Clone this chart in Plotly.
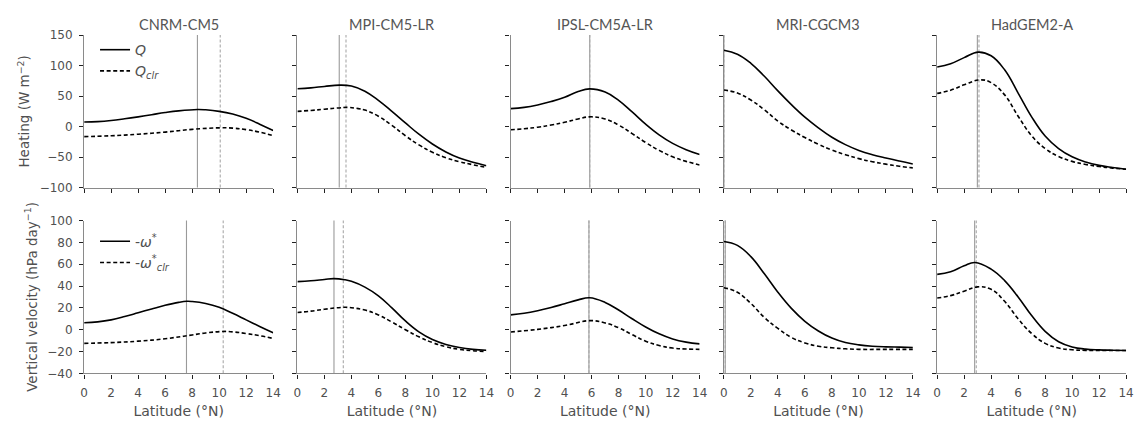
import plotly.graph_objects as go

# ---- data: latitude (°N) and profiles for each model ----
models = ["CNRM-CM5", "MPI-CM5-LR", "IPSL-CM5A-LR", "MRI-CGCM3", "HadGEM2-A"]

# Heating Q (W m-2)
cnrm_q_lat = [0, 1, 2, 3, 4, 5, 6, 7, 8.4, 9, 10, 11, 12, 13, 14]
cnrm_q = [7.5, 8.2, 10, 12.8, 16, 19.5, 23, 25.8, 28, 27.5, 25, 20.5, 13.5, 4, -6.5]
cnrm_qclr_lat = [0, 2, 4, 6, 8, 10.1, 11, 12, 13, 14]
cnrm_qclr = [-16.5, -15, -12.5, -9, -4.5, -2, -2.5, -5, -9, -15]

mpi_q_lat = [0, 1, 2, 3.1, 4, 5, 6, 7, 8, 9, 10, 11, 12, 13, 14]
mpi_q = [62, 63.5, 65.8, 68, 66.5, 58, 43, 25, 6, -12.5, -28.5, -41.5, -51.5, -58.5, -64]
mpi_qclr_lat = [0, 1, 2, 3, 3.7, 4.5, 5, 6, 7, 8, 9, 10, 11, 12, 13, 14]
mpi_qclr = [25, 26.5, 28.5, 30.5, 31.5, 29.5, 27, 17, 2, -15, -30, -42, -51, -57.5, -62.5, -67]

ipsl_q_lat = [0, 1, 2, 3, 4, 5, 5.85, 7, 8, 9, 10, 11, 12, 13, 14]
ipsl_q = [29.5, 31.5, 35.5, 41, 48, 57.5, 61.8, 56.5, 43, 24, 4, -13.5, -27.5, -37.8, -45.7]
ipsl_qclr_lat = [0, 1, 2, 3, 4, 5, 5.85, 7, 8, 9, 10, 11, 12, 13, 14]
ipsl_qclr = [-5.3, -3.5, -1, 2.5, 7, 12.5, 16, 12.5, 2.5, -11.5, -26, -39, -49.5, -57, -62.8]

mri_q_lat = [0, 1, 2, 3, 4, 5, 6, 7, 8, 9, 10, 11, 12, 13, 14]
mri_q = [125, 118.6, 103.7, 82.4, 58.5, 36, 15.5, -2, -17.5, -29.5, -39, -46, -51.5, -56.5, -61.2]
mri_qclr_lat = [0, 1, 2, 3, 4, 5, 6, 7, 8, 9, 10, 11, 12, 13, 14]
mri_qclr = [60, 55, 43.5, 27.5, 9, -5.5, -18, -29, -38.5, -46, -52.5, -57.5, -61.5, -65, -67.6]

had_q_lat = [0, 1, 2, 3.05, 4, 5, 6, 7, 8, 9, 10, 11, 12, 13, 14]
had_q = [97.6, 103, 113, 122, 116, 93, 55, 16, -15.5, -36, -49.5, -58, -63.5, -67, -70]
had_qclr_lat = [0, 1, 2, 3.2, 4, 5, 6, 7, 8, 9, 10, 11, 12, 13, 14]
had_qclr = [54.4, 59.6, 68.5, 76.6, 72, 52, 17, -15, -36, -49, -57, -62, -65.5, -68, -70]

# Vertical velocity -omega* (hPa day-1)
cnrm_w_lat = [0, 1, 2, 3, 4, 5, 6, 7, 7.6, 8, 9, 10, 11, 12, 13, 14]
cnrm_w = [6.4, 7.2, 9, 12, 15.5, 19, 22.3, 25, 26, 25.8, 24, 20.5, 15, 9, 3, -2.8]
cnrm_wclr_lat = [0, 2, 4, 6, 8, 9, 10.3, 11, 12, 13, 14]
cnrm_wclr = [-12.5, -11.8, -10.5, -8.3, -4.8, -3, -1.6, -2, -3.5, -5.5, -8]

mpi_w_lat = [0, 1, 2, 2.7, 3.5, 4, 5, 6, 7, 8, 9, 10, 11, 12, 13, 14]
mpi_w = [44, 44.8, 46, 46.8, 45.8, 44.3, 39, 31, 20, 8, -2, -9, -13.5, -16.3, -18, -18.8]
mpi_wclr_lat = [0, 1, 2, 3.4, 4, 5, 6, 7, 8, 9, 10, 11, 12, 13, 14]
mpi_wclr = [15.8, 17, 18.7, 20.5, 20.1, 18, 13.5, 7, 0, -6.5, -11.8, -15.6, -18, -19.3, -20]

ipsl_w_lat = [0, 1, 2, 3, 4, 5, 5.85, 7, 8, 9, 10, 11, 12, 13, 14]
ipsl_w = [13.6, 15, 17.3, 20.3, 23.8, 27.3, 29.3, 25, 18, 10, 2.5, -3.8, -8.5, -11.4, -13]
ipsl_wclr_lat = [0, 2, 4, 5.85, 7, 8, 9, 10, 11, 12, 13, 14]
ipsl_wclr = [-2.1, 0.3, 3.8, 8.3, 6.2, 1.8, -4.5, -10.5, -14.5, -16.8, -17.7, -18]

mri_w_lat = [0, 1, 2, 3, 4, 5, 6, 7, 8, 9, 10, 11, 12, 13, 14]
mri_w = [80.8, 77.2, 66.9, 51.2, 34.3, 19.5, 7.7, -1.2, -7.7, -11.8, -13.9, -15.1, -15.7, -16, -16.3]
mri_wclr_lat = [0, 1, 2, 3, 4, 5, 6, 7, 8, 9, 10, 12, 14]
mri_wclr = [38.5, 34.3, 24, 11.2, 1.2, -7.1, -12.1, -15.1, -16.6, -17.5, -18, -18, -18]

had_w_lat = [0, 1, 2, 2.8, 4, 5, 6, 7, 8, 9, 10, 11, 12, 13, 14]
had_w = [50.7, 53, 58.5, 61.6, 55.5, 45, 30, 13, -1.5, -11, -15.8, -17.8, -18.5, -18.8, -19]
had_wclr_lat = [0, 1, 2, 3.0, 4, 5, 6, 7, 8, 9, 10, 11, 12, 14]
had_wclr = [29, 31.2, 35.3, 39.2, 37, 26, 10, -3.5, -12.5, -16.8, -18.4, -18.9, -19, -19]

# Latitudes of the maxima (vertical markers)
q_peak = [8.39, 3.1, 5.86, 0.0, 2.98]
qclr_peak = [10.08, 3.6, 5.86, 0.0, 3.1]
w_peak = [7.58, 2.71, 5.8, 0.1, 2.78]
wclr_peak = [10.3, 3.4, 5.8, 0.1, 2.9]

x_ticks = [0, 2, 4, 6, 8, 10, 12, 14]
heat_ticks = [-100, -50, 0, 50, 100, 150]
vel_ticks = [-40, -20, 0, 20, 40, 60, 80, 100]

top_rows = [
    (cnrm_q_lat, cnrm_q, cnrm_qclr_lat, cnrm_qclr),
    (mpi_q_lat, mpi_q, mpi_qclr_lat, mpi_qclr),
    (ipsl_q_lat, ipsl_q, ipsl_qclr_lat, ipsl_qclr),
    (mri_q_lat, mri_q, mri_qclr_lat, mri_qclr),
    (had_q_lat, had_q, had_qclr_lat, had_qclr),
]
bottom_rows = [
    (cnrm_w_lat, cnrm_w, cnrm_wclr_lat, cnrm_wclr),
    (mpi_w_lat, mpi_w, mpi_wclr_lat, mpi_wclr),
    (ipsl_w_lat, ipsl_w, ipsl_wclr_lat, ipsl_wclr),
    (mri_w_lat, mri_w, mri_wclr_lat, mri_wclr),
    (had_w_lat, had_w, had_wclr_lat, had_wclr),
]

# ---- layout geometry (pixels) ----
W, H = 1146, 430
left0, pitch, pw = 81.0, 215.5, 191.0
top_row_px = (29.0, 186.7)
bot_row_px = (220.7, 378.7)

TEXT = "#505050"
FONT = "DejaVu Sans"
DASH = "4px,2.6px"
SMOOTH = 1.2

fig = go.Figure()
layout = dict(
    width=W, height=H,
    margin=dict(l=0, r=0, t=0, b=0),
    paper_bgcolor="white", plot_bgcolor="white",
    font=dict(family=FONT, color=TEXT, size=12),
    shapes=[], annotations=[],
)


def axis_common():
    return dict(
        showgrid=False, zeroline=False, showline=True,
        linecolor="#8a8a8a", linewidth=1.3,
        ticks="outside", ticklen=4, tickwidth=1, tickcolor="#222",
        ticklabelstandoff=4,
        tickfont=dict(family=FONT, size=12, color=TEXT),
    )


for r, (rows, ypx, yticks, yrange) in enumerate([
    (top_rows, top_row_px, heat_ticks, [-100, 150]),
    (bottom_rows, bot_row_px, vel_ticks, [-40, 100]),
]):
    for c in range(5):
        n = r * 5 + c + 1
        xs = "" if n == 1 else str(n)
        xa, ya = "x" + xs, "y" + xs
        x0 = left0 + c * pitch
        xd = [x0 / W, (x0 + pw) / W]
        yd = [1 - ypx[1] / H, 1 - ypx[0] / H]

        xax = axis_common()
        xax.update(domain=xd, range=[0, 14], tickvals=x_ticks, anchor=ya,
                   showticklabels=(r == 1))
        if r == 1:
            xax["title"] = dict(text="Latitude (°N)", standoff=7,
                                font=dict(family=FONT, size=14, color=TEXT))
        yax = axis_common()
        yax.update(domain=yd, range=yrange, tickvals=yticks, anchor=xa,
                   showticklabels=(c == 0))
        if c == 0:
            ttl = "Heating (W m<sup>−2</sup>)" if r == 0 else "Vertical velocity (hPa day<sup>−1</sup>)"
            yax["title"] = dict(text=ttl, standoff=6,
                                font=dict(family=FONT, size=13.5, color=TEXT))
        layout["xaxis" + xs] = xax
        layout["yaxis" + xs] = yax

        lat_a, val_a, lat_b, val_b = rows[c]
        if r == 0:
            names = ["<i>Q</i>", "<i>Q</i><sub><i>clr</i></sub>"]
            lg = "legend"
            peaks = (q_peak[c], qclr_peak[c])
        else:
            names = ["-<i>ω</i><sup>*</sup>", "-<i>ω</i><sup>*</sup><sub><i>clr</i></sub>"]
            lg = "legend2"
            peaks = (w_peak[c], wclr_peak[c])

        # markers at the latitude of each maximum
        layout["shapes"].append(dict(
            type="line", xref=xa, yref=ya + " domain", x0=peaks[0], x1=peaks[0],
            y0=0, y1=1, layer="below", line=dict(color="#9a9a9a", width=1.1)))
        layout["shapes"].append(dict(
            type="line", xref=xa, yref=ya + " domain", x0=peaks[1], x1=peaks[1],
            y0=0, y1=1, layer="below", line=dict(color="#a8a8a8", width=1.1, dash="3px,2px")))

        fig.add_trace(go.Scatter(
            x=lat_a, y=val_a, mode="lines", xaxis=xa, yaxis=ya,
            line=dict(color="black", width=1.6, shape="spline", smoothing=SMOOTH),
            name=names[0], legend=lg, showlegend=(c == 0)))
        fig.add_trace(go.Scatter(
            x=lat_b, y=val_b, mode="lines", xaxis=xa, yaxis=ya,
            line=dict(color="black", width=1.6, dash=DASH, shape="spline", smoothing=SMOOTH),
            name=names[1], legend=lg, showlegend=(c == 0)))

        if r == 0:
            layout["annotations"].append(dict(
                text=models[c], xref="paper", yref="paper",
                x=(x0 + pw / 2) / W, y=1 - 29 / H, xanchor="center", yanchor="bottom",
                showarrow=False, font=dict(family="Lato", size=14.5, color="#555")))

legend_style = dict(
    xanchor="left", yanchor="top", bgcolor="rgba(0,0,0,0)",
    font=dict(family=FONT, size=14, color=TEXT), itemwidth=30,
    tracegroupgap=0,
)
layout["legend"] = dict(x=92 / W, y=1 - 28 / H, **legend_style)
layout["legend2"] = dict(x=92 / W, y=1 - 226 / H, **legend_style)

fig.update_layout(**layout)
fig.write_html("out.html")
